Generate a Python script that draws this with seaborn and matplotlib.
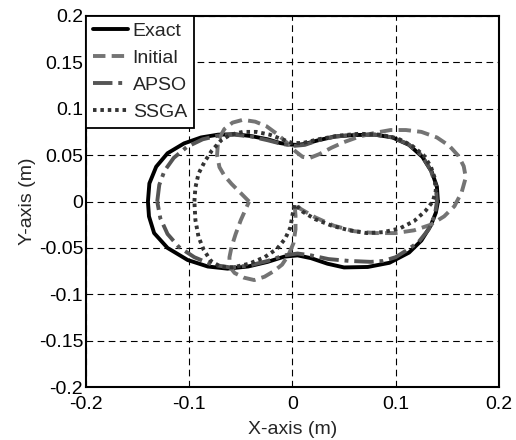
import numpy as np
import pandas as pd
import matplotlib
matplotlib.use("Agg")
import matplotlib.pyplot as plt
import seaborn as sns

# traced contours (x, y in metres)
exact_x = [0.141, 0.140, 0.135, 0.126, 0.113, 0.097, 0.080, 0.060, 0.041, 0.025, 0.012, 0.004,
           -0.004, -0.012, -0.024, -0.040, -0.056, -0.072, -0.0885, -0.105, -0.121, -0.132, -0.1386,
           -0.140, -0.139, -0.134, -0.121, -0.1015, -0.082, -0.063, -0.043, -0.024, -0.008, 0.005,
           0.018, 0.034, 0.050, 0.073, 0.094, 0.113, 0.125, 0.134, 0.139, 0.141]
exact_y = [0.0, 0.016, 0.032, 0.048, 0.061, 0.069, 0.072, 0.0716, 0.070, 0.066, 0.062, 0.061,
           0.0615, 0.063, 0.067, 0.0705, 0.0725, 0.072, 0.069, 0.0626, 0.052, 0.0375, 0.0195,
           0.0, -0.016, -0.034, -0.050, -0.063, -0.070, -0.0723, -0.070, -0.065, -0.0594, -0.058,
           -0.061, -0.067, -0.071, -0.0705, -0.066, -0.055, -0.042, -0.026, -0.012, 0.0]

initial_x = [-0.042, -0.050, -0.059, -0.066, -0.0707, -0.073, -0.072, -0.066, -0.058, -0.048, -0.036,
             -0.025, -0.014, -0.005, 0.003, 0.010, 0.017, 0.026, 0.038, 0.050, 0.065, 0.080, 0.095,
             0.110, 0.125, 0.140, 0.152, 0.161, 0.166, 0.168, 0.164, 0.157, 0.147, 0.134, 0.118,
             0.100, 0.080, 0.060, 0.040, 0.022, 0.008, 0.002, 0.003, 0.003, 0.001, -0.004, -0.010,
             -0.018, -0.027, -0.037, -0.047, -0.056, -0.061, -0.061, -0.059, -0.055, -0.050, -0.046,
             -0.042]
initial_y = [0.0, 0.009, 0.019, 0.028, 0.037, 0.050, 0.066, 0.078, 0.085, 0.088, 0.086,
             0.081, 0.072, 0.063, 0.054, 0.048, 0.047, 0.051, 0.058, 0.064, 0.070, 0.074, 0.077,
             0.077, 0.075, 0.069, 0.060, 0.049, 0.038, 0.026, 0.010, -0.005, -0.016, -0.025, -0.031,
             -0.034, -0.034, -0.032, -0.026, -0.017, -0.008, -0.002, -0.015, -0.030, -0.045, -0.058,
             -0.068, -0.075, -0.081, -0.0846, -0.082, -0.077, -0.070, -0.060, -0.049, -0.035, -0.020,
             -0.010, 0.0]

apso_x = [-0.131, -0.129, -0.124, -0.115, -0.102, -0.087, -0.072, -0.056, -0.040, -0.024, -0.010,
          0.002, 0.012, 0.025, 0.042, 0.060, 0.080, 0.097, 0.112, 0.125, 0.134, 0.139, 0.140, 0.138,
          0.132, 0.122, 0.110, 0.100, 0.088, 0.076, 0.055, 0.035, 0.018, 0.005, -0.008, -0.024,
          -0.042, -0.060, -0.078, -0.095, -0.110, -0.121, -0.128, -0.131]
apso_y = [0.0, 0.018, 0.033, 0.047, 0.059, 0.067, 0.071, 0.072, 0.070, 0.066, 0.062,
          0.060, 0.061, 0.066, 0.070, 0.072, 0.072, 0.069, 0.062, 0.050, 0.034, 0.017, 0.0, -0.015,
          -0.030, -0.044, -0.053, -0.060, -0.064, -0.065, -0.064, -0.062, -0.058, -0.056, -0.058, -0.064,
          -0.069, -0.071, -0.068, -0.060, -0.049, -0.035, -0.018, 0.0]

ssga_x = [-0.095, -0.094, -0.091, -0.085, -0.078, -0.069, -0.060, -0.048, -0.035, -0.022, -0.010,
          0.000, 0.010, 0.025, 0.045, 0.065, 0.085, 0.102, 0.116, 0.127, 0.134, 0.138, 0.139,
          0.136, 0.129, 0.118, 0.104, 0.088, 0.072, 0.055, 0.038, 0.022, 0.010, 0.002, 0.000,
          -0.002, -0.007, -0.015, -0.027, -0.042, -0.058, -0.070, -0.079, -0.086, -0.091, -0.094,
          -0.095]
ssga_y = [0.0, 0.015, 0.030, 0.043, 0.055, 0.066, 0.072, 0.075, 0.075, 0.072, 0.067,
          0.063, 0.063, 0.067, 0.071, 0.073, 0.072, 0.068, 0.060, 0.050, 0.038, 0.025, 0.012,
          0.000, -0.010, -0.021, -0.029, -0.033, -0.034, -0.031, -0.026, -0.019, -0.011, -0.003, -0.015,
          -0.028, -0.040, -0.051, -0.060, -0.067, -0.071, -0.070, -0.064, -0.052, -0.038, -0.020,
          0.0]

curves = [
    ("Exact", exact_x, exact_y, "black", "-"),
    ("Initial", initial_x, initial_y, "#747474", (0, (3.2, 1.6))),
    ("APSO", apso_x, apso_y, "#555555", (0, (5, 1.5, 1, 1.5))),
    ("SSGA", ssga_x, ssga_y, "#333333", (0, (0.9, 1.0))),
]

sns.set_style("white")
plt.rcParams['font.family'] = ['Liberation Sans', 'DejaVu Sans']

fig = plt.figure(figsize=(5.16, 4.4), dpi=100)
ax = fig.add_axes([0.1667, 0.120, 0.800, 0.844])

for name, xs, ys, col, ls in curves:
    df = pd.DataFrame({'x': xs, 'y': ys})
    sns.lineplot(data=df, x='x', y='y', sort=False, estimator=None, ax=ax,
                 color=col, linestyle=ls, linewidth=2.8, label=name)

ax.set_xlim(-0.2, 0.2)
ax.set_ylim(-0.2, 0.2)
ax.set_xticks([-0.2, -0.1, 0, 0.1, 0.2])
ax.set_xticklabels(['-0.2', '-0.1', '0', '0.1', '0.2'])
ax.set_yticks([-0.2, -0.15, -0.1, -0.05, 0, 0.05, 0.1, 0.15, 0.2])
ax.set_yticklabels(['-0.2', '-0.15', '-0.1', '-0.05', '0', '0.05', '0.1', '0.15', '0.2'])
ax.grid(True, color='black', linestyle=(0, (6, 4)), linewidth=0.8)
ax.tick_params(direction='in', length=4, labelsize=14, colors='black', pad=2)
ax.tick_params(axis='x', pad=6)
for sp in ax.spines.values():
    sp.set_color('black')
    sp.set_linewidth(1.5)
ax.set_xlabel('X-axis (m)', fontsize=14, labelpad=6)
ax.set_ylabel('Y-axis (m)', fontsize=14, labelpad=2)

leg = ax.legend(loc='upper left', borderaxespad=0, fontsize=14, handlelength=1.8,
                handletextpad=0.25, labelspacing=0.48, borderpad=0.35, fancybox=False,
                framealpha=1, edgecolor='black')
leg.get_frame().set_linewidth(1.3)

fig.savefig('out.png', dpi=100)
